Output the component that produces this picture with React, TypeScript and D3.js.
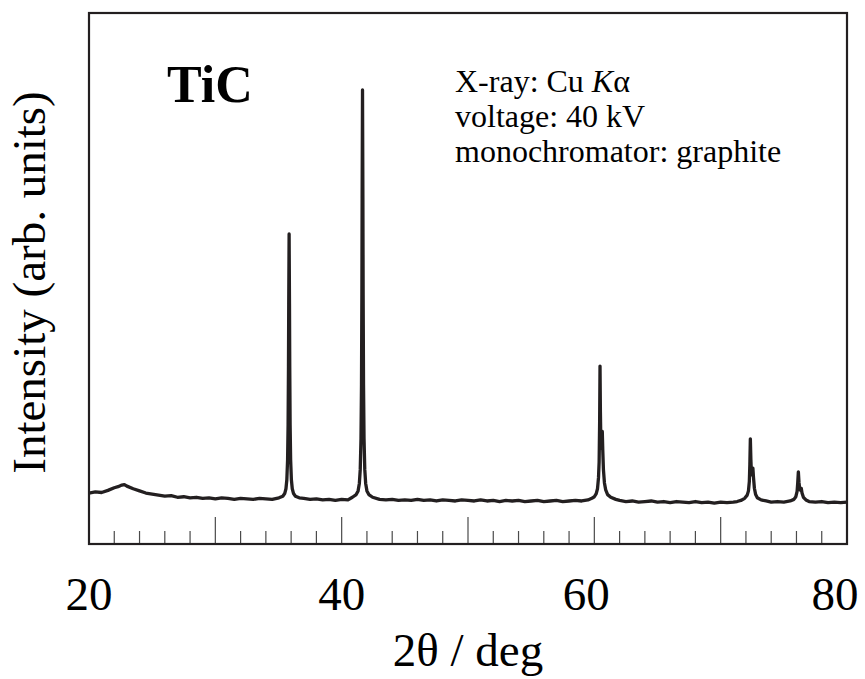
import { useEffect, useRef } from 'react';
import * as d3 from 'd3';

// XRD pattern of TiC: [2theta (deg), intensity (arb.)]
const pattern: [number, number][] = [
  [20.0, 96], [20.5, 98], [21.0, 97], [21.5, 101], [22.0, 106], [22.3, 108], [22.6, 111], [22.8, 112],
  [23.0, 109], [23.5, 104], [24.0, 100], [24.5, 96], [25.0, 94], [25.5, 92], [26.0, 90], [26.5, 91],
  [27.0, 88], [27.5, 89], [28.0, 87], [28.5, 88], [29.0, 86], [29.5, 87], [30.0, 85], [30.5, 87],
  [31.0, 86], [31.5, 84], [32.0, 86], [32.5, 85], [33.0, 84], [33.5, 86], [34.0, 85], [34.5, 84],
  [35.04, 87], [35.34, 90], [35.49, 95], [35.59, 104], [35.66, 121], [35.72, 159], [35.76, 225],
  [35.79, 335], [35.81, 452], [35.84, 584], [35.87, 452], [35.89, 335], [35.92, 225], [35.96, 159],
  [36.02, 121], [36.09, 104], [36.19, 95], [36.34, 90], [36.64, 87], [37.0, 86], [37.5, 84],
  [38.0, 85], [38.5, 83], [39.0, 84], [39.5, 82], [40.0, 84], [40.5, 83], [40.85, 88], [41.15, 93],
  [41.3, 100], [41.4, 114], [41.47, 140], [41.53, 199], [41.57, 301], [41.6, 470], [41.62, 651],
  [41.65, 855], [41.68, 651], [41.7, 470], [41.73, 301], [41.77, 199], [41.83, 140], [41.9, 114],
  [42.0, 100], [42.15, 93], [42.45, 88], [43.0, 84], [43.5, 83], [44.0, 84], [44.5, 82], [45.0, 83],
  [45.5, 82], [46.0, 84], [46.5, 82], [47.0, 83], [47.5, 81], [48.0, 83], [48.5, 82], [49.0, 81],
  [49.5, 83], [50.0, 82], [50.5, 81], [51.0, 83], [51.5, 81], [52.0, 82], [52.5, 80], [53.0, 82],
  [53.5, 81], [54.0, 82], [54.5, 80], [55.0, 81], [55.5, 82], [56.0, 80], [56.5, 81], [57.0, 82],
  [57.5, 80], [58.0, 81], [58.5, 82], [59.0, 81], [59.5, 83], [59.8, 86], [60.0, 89], [60.15, 95],
  [60.25, 104], [60.33, 125], [60.38, 155], [60.42, 230], [60.45, 335], [60.48, 250], [60.52, 185],
  [60.56, 180], [60.6, 205], [60.63, 212], [60.67, 175], [60.72, 140], [60.8, 115], [60.9, 102],
  [61.05, 93], [61.3, 88], [61.7, 84], [62.0, 82], [62.5, 80], [63.0, 81], [63.5, 79], [64.0, 80],
  [64.5, 81], [65.0, 79], [65.5, 80], [66.0, 78], [66.5, 80], [67.0, 79], [67.5, 78], [68.0, 80],
  [68.5, 78], [69.0, 79], [69.5, 77], [70.0, 79], [70.5, 78], [71.0, 79], [71.3, 80], [71.6, 82],
  [71.9, 86], [72.1, 92], [72.2, 100], [72.27, 118], [72.31, 150], [72.35, 198], [72.39, 160],
  [72.44, 130], [72.5, 132], [72.55, 143], [72.6, 125], [72.67, 105], [72.77, 93], [72.9, 87],
  [73.2, 83], [73.6, 81], [74.0, 79], [74.5, 80], [75.0, 79], [75.5, 81], [75.8, 84], [75.95, 89],
  [76.05, 99], [76.1, 115], [76.15, 136], [76.2, 116], [76.26, 103], [76.32, 101], [76.38, 105],
  [76.44, 96], [76.55, 88], [76.75, 83], [77.0, 80], [77.5, 79], [78.0, 80], [78.5, 78], [79.0, 79],
  [79.5, 78], [80.0, 79],
];

const xTickLabels = [20, 40, 60, 80];
const xMajorTicks = [30, 40, 50, 60, 70];
const xMinorTicks = d3.range(22, 80, 2).filter(v => v % 10 !== 0);
const infoLines = ['X-ray: Cu ', 'voltage: 40 kV', 'monochromator: graphite'];

const W = 865;
const H = 679;
const FONT = '"Liberation Serif", "Times New Roman", serif';
const INK = '#231f20';

const App = () => {
  const svgRef = useRef<SVGSVGElement>(null);

  useEffect(() => {
    if (!svgRef.current) return;
    const svg = d3.select(svgRef.current);
    svg.selectAll('*').remove();

    const left = 89, right = 847, top = 13, bottom = 544;

    const x = d3.scaleLinear().domain([20, 80]).range([left, right]);
    const y = d3.scaleLinear().domain([0, 1000]).range([bottom, top]);

    // tick marks (inside, from bottom)
    const ticks = svg.append('g').attr('stroke', '#4a4a4a').attr('stroke-width', 1.2);
    ticks.selectAll('line.minor')
      .data(xMinorTicks)
      .join('line')
      .attr('class', 'minor')
      .attr('x1', d => x(d)).attr('x2', d => x(d))
      .attr('y1', bottom).attr('y2', bottom - 13);
    ticks.selectAll('line.major')
      .data(xMajorTicks)
      .join('line')
      .attr('class', 'major')
      .attr('x1', d => x(d)).attr('x2', d => x(d))
      .attr('y1', bottom).attr('y2', bottom - 27);

    // spectrum
    const line = d3.line<[number, number]>()
      .x(d => x(d[0]))
      .y(d => y(d[1]))
      .curve(d3.curveLinear);
    svg.append('path')
      .datum(pattern)
      .attr('d', line)
      .attr('fill', 'none')
      .attr('stroke', INK)
      .attr('stroke-width', 3.3)
      .attr('stroke-linejoin', 'round');

    // frame
    svg.append('rect')
      .attr('x', left).attr('y', top)
      .attr('width', right - left).attr('height', bottom - top)
      .attr('fill', 'none')
      .attr('stroke', INK)
      .attr('stroke-width', 2.2);

    // tick labels (the outer ones are nudged inwards in the original)
    const labelX = (d: number) => {
      const px = x(d);
      if (d === 80) return px - 12;
      if (d === 60) return px - 8;
      return px;
    };
    svg.append('g')
      .selectAll('text')
      .data(xTickLabels)
      .join('text')
      .attr('x', d => labelX(d))
      .attr('y', 610)
      .attr('text-anchor', 'middle')
      .attr('font-family', FONT)
      .attr('font-size', 47)
      .attr('fill', '#000')
      .text(d => d);

    // axis titles
    svg.append('text')
      .attr('x', (left + right) / 2)
      .attr('y', 666)
      .attr('text-anchor', 'middle')
      .attr('font-family', FONT)
      .attr('font-size', 47)
      .text('2θ / deg');

    svg.append('text')
      .attr('transform', `translate(45,${(top + bottom) / 2 + 4}) rotate(-90)`)
      .attr('text-anchor', 'middle')
      .attr('font-family', FONT)
      .attr('font-size', 47)
      .text('Intensity (arb. units)');

    // sample label
    svg.append('text')
      .attr('x', 167)
      .attr('y', 102)
      .attr('font-family', FONT)
      .attr('font-weight', 'bold')
      .attr('font-size', 52)
      .text('TiC');

    // measurement info
    const info = svg.append('g').attr('font-family', FONT).attr('font-size', 32);
    infoLines.forEach((s, i) => {
      const t = info.append('text').attr('x', 455).attr('y', 92 + i * 35);
      t.append('tspan').text(s);
      if (i === 0) {
        t.append('tspan').attr('font-style', 'italic').text('K');
        t.append('tspan').text('α');
      }
    });
  }, []);

  return (
    <svg
      ref={svgRef}
      width={W}
      height={H}
      style={{ position: 'absolute', left: 0, top: 0, background: '#fff' }}
    />
  );
};

export default App;
